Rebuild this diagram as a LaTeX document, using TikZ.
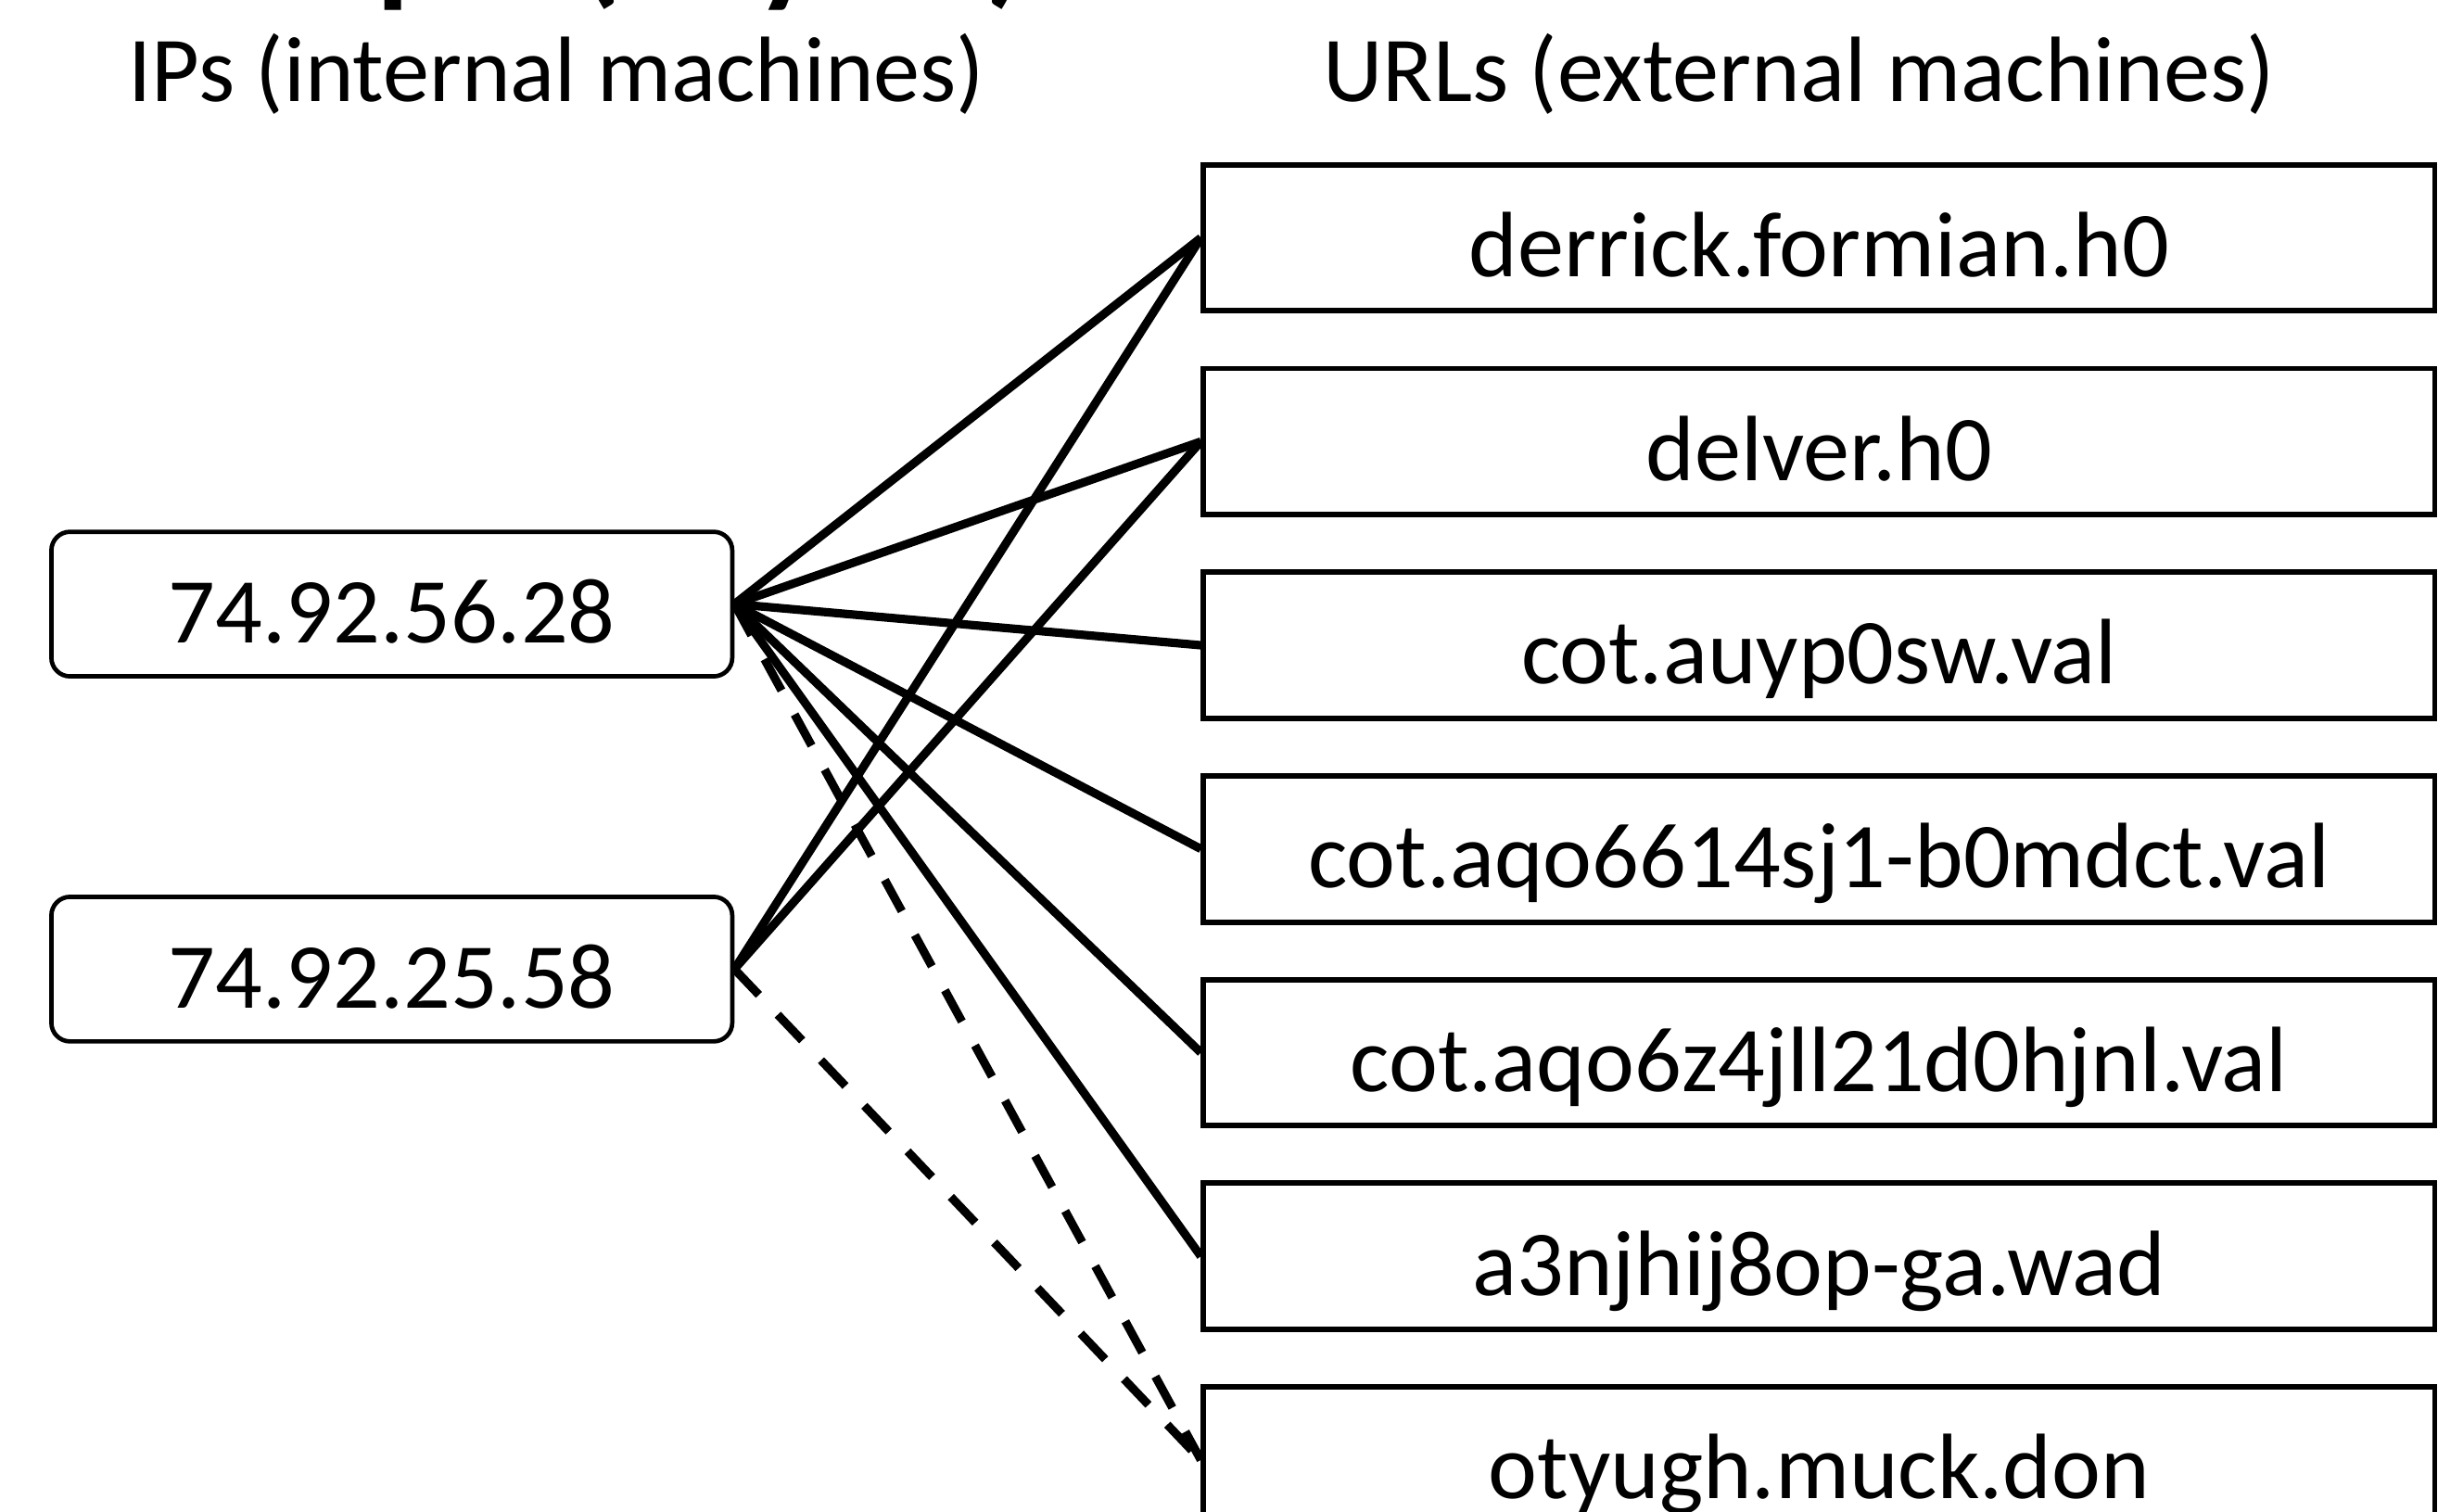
\documentclass[tikz,border=0pt]{standalone}
\usepackage{fontspec}
\setmainfont{Carlito}
\usetikzlibrary{positioning}

\begin{document}
\begin{tikzpicture}[x=0.02cm,y=-0.02cm,node distance=0.67cm,
  every node/.style={font=\fontsize{34}{40}\selectfont},
  ipbox/.style={draw,rounded corners=0.24cm,line width=1.6pt,minimum width=8.76cm,minimum height=1.86cm,inner sep=0pt,text height=32pt,text depth=3.6pt},
  urlbox/.style={draw,line width=2pt,minimum width=15.84cm,minimum height=1.88cm,inner sep=0pt,text height=32pt,text depth=3.6pt},
  link/.style={line width=3.1pt},
  maybe/.style={link,dash pattern=on 13pt off 10pt}]
\useasboundingbox (0,0) rectangle (1568,972);
\node[anchor=base west,inner sep=0pt,font=\bfseries\fontsize{49}{58}\selectfont] (title) at (49,-7) {Example (day 10)};
\node[anchor=base] (iphead) at (358,65) {IPs (internal machines)};
\node[anchor=base] (urlhead) at (1157,65) {URLs (external machines)};
\node[ipbox] (ip1) at (252,388.5) {74.92.56.28};
\node[ipbox,below=2.78cm of ip1] (ip2) {74.92.25.58};
\node[urlbox] (url1) at (1170,153) {derrick.formian.h0};
\node[urlbox,below=of url1] (url2) {delver.h0};
\node[urlbox,below=of url2] (url3) {cot.auyp0sw.val};
\node[urlbox,below=of url3] (url4) {cot.aqo6614sj1-b0mdct.val};
\node[urlbox,below=of url4] (url5) {cot.aqo6z4jll21d0hjnl.val};
\node[urlbox,below=of url5] (url6) {a3njhij8op-ga.wad};
\node[urlbox,below=of url6] (url7) {otyugh.muck.don};
\foreach \x/\y in {ip1/url1,ip1/url2,ip1/url3,ip1/url4,ip1/url5,ip1/url6,ip2/url1,ip2/url2}
  \draw[link] (\x.east) -- (\y.west);
\foreach \x in {ip1,ip2} \draw[maybe] (\x.east) -- (url7.west);
\end{tikzpicture}
\end{document}
